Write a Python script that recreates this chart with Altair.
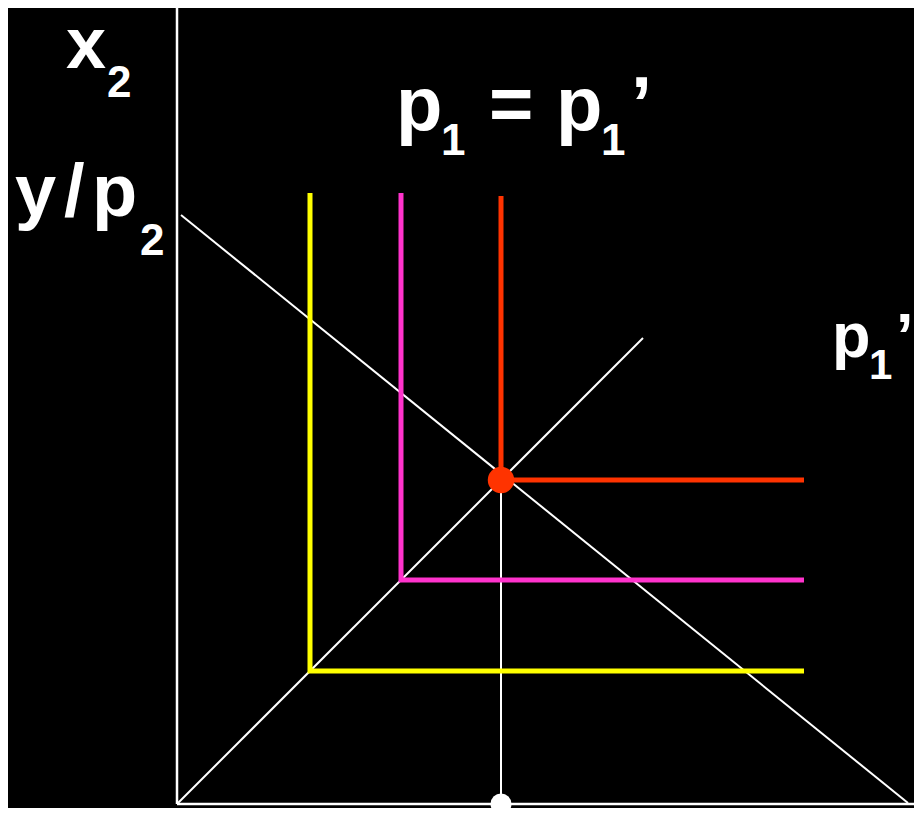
import altair as alt
import pandas as pd

# ---- data (diagram units; origin at the axes' corner) ----
seg_names = ["axis_v", "axis_h", "budget", "diagonal", "drop"]
seg_x0 = [0, 0, 4, 0, 324]
seg_y0 = [0, 0, 589, 0, 0]
seg_x1 = [0, 745, 731, 466, 324]
seg_y1 = [799, 0, 1, 466, 324]
seg_w = [2.5, 2.5, 2, 2, 2]

l_names = ["yellow", "magenta", "red"]
l_colors = ["#FFFF00", "#FF33CC", "#FF3300"]
l_corner = [133, 224, 324]     # kink of each L (x1 = x2)
l_top = [611, 611, 608]
l_right = [627, 627, 627]

opt_x = [324]
opt_y = [324]
foot_x = [324]
foot_y = [0]

txt = ["x", "2", "y", "/", "p", "2", "p", "1", "=", "p", "1", "\u2019", "p", "1", "\u2019"]
txt_x = [-111, -70, -162, -113, -85, -37, 219, 264, 312, 379, 424, 454, 655, 692, 719]
txt_y = [736, 707, 588, 588, 588, 549, 674, 649, 674, 674, 649, 674, 447, 425, 447]
txt_size = [72, 44, 74, 74, 74, 44, 76, 44, 76, 76, 44, 76, 63, 42, 63]

# ---- tables ----
rows = []
for n, x0, y0, x1, y1, w in zip(seg_names, seg_x0, seg_y0, seg_x1, seg_y1, seg_w):
    rows.append(dict(name=n, x=x0, y=y0, o=0, w=w))
    rows.append(dict(name=n, x=x1, y=y1, o=1, w=w))
segs = pd.DataFrame(rows)

lrows = []
for n, c, k, t, r in zip(l_names, l_colors, l_corner, l_top, l_right):
    lrows.append(dict(name=n, x=k, y=t, o=0))
    lrows.append(dict(name=n, x=k, y=k, o=1))
    lrows.append(dict(name=n, x=r, y=k, o=2))
ls = pd.DataFrame(lrows)

texts = pd.DataFrame(dict(t=txt, x=txt_x, y=txt_y, s=txt_size))

xs = alt.Scale(domain=[-169, 737], nice=False, zero=False)
ys = alt.Scale(domain=[-4, 796], nice=False, zero=False)
X = lambda f="x": alt.X(f, type="quantitative", scale=xs, axis=None)
Y = lambda f="y": alt.Y(f, type="quantitative", scale=ys, axis=None)

white = alt.Chart(segs).mark_line(color="white", strokeCap="butt").encode(
    x=X(), y=Y(), detail="name:N", order="o:Q",
    strokeWidth=alt.StrokeWidth("w:Q", scale=None),
)

lshapes = alt.Chart(ls).mark_line(strokeWidth=5, strokeCap="butt", strokeJoin="miter").encode(
    x=X(), y=Y(), order="o:Q",
    color=alt.Color("name:N", scale=alt.Scale(domain=l_names, range=l_colors), legend=None),
)

opt = alt.Chart(pd.DataFrame(dict(x=opt_x, y=opt_y))).mark_circle(
    color="#FF3300", opacity=1, size=700).encode(x=X(), y=Y())
foot = alt.Chart(pd.DataFrame(dict(x=foot_x, y=foot_y))).mark_circle(
    color="white", opacity=1, size=440).encode(x=X(), y=Y())

labels = alt.Chart(texts).mark_text(
    align="left", baseline="alphabetic", font="Liberation Sans", fontWeight="bold", color="white"
).encode(x=X(), y=Y(), text="t:N", size=alt.Size("s:Q", scale=None))

chart = alt.layer(white, lshapes, opt, foot, labels).properties(
    width=906, height=800, background="black", padding=0,
    autosize=alt.AutoSizeParams(type="none"),
).configure_view(stroke=None)

chart.save("out.html", embed_options={"renderer": "svg", "actions": False})
